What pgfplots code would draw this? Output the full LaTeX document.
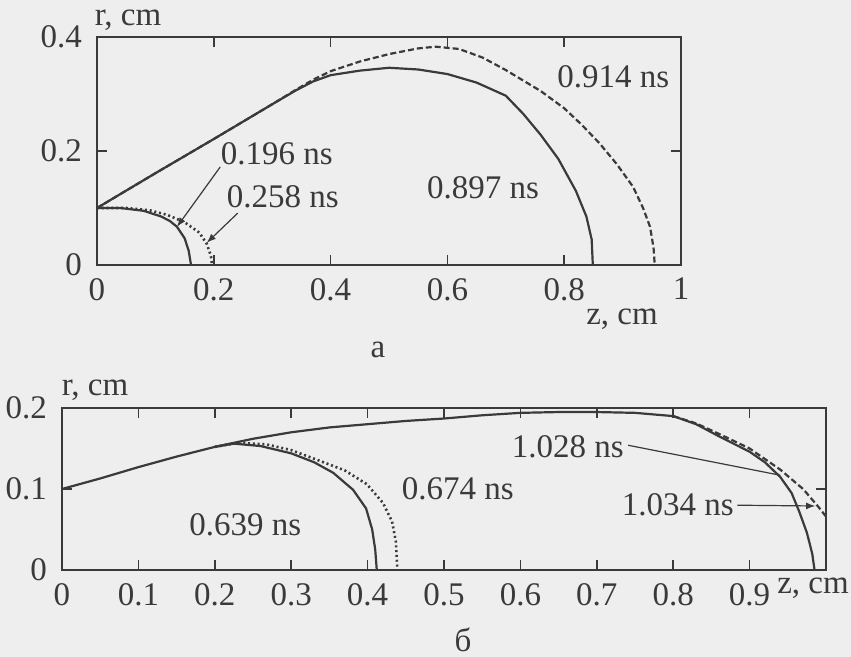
\documentclass[border=0pt]{standalone}
\usepackage{fontspec}
\setmainfont{Liberation Serif}
\usepackage{pgfplots}
\pgfplotsset{compat=1.18}
\definecolor{ink}{HTML}{3A3A3A}
\definecolor{paper}{HTML}{EEEEEE}

\pgfplotsset{
  scan/.style={
    scale only axis, anchor=south west,
    xmin=0, xmax=1, ymin=0,
    axis line style={ink, line width=0.8pt},
    tick style={ink, line width=0.8pt},
    major tick length=5pt,
    tick align=inside,
    ticklabel style={font=\fontsize{16.5}{19}\selectfont, text=ink},
    xticklabel style={yshift=-3pt},
    yticklabel style={xshift=-4pt},
    /pgf/number format/assume math mode=true,
    cycle list={{ink}},
    every axis plot/.append style={ink, line width=1.1pt, no markers},
  },
}
\tikzset{
  lbl/.style={font=\fontsize{16.5}{19}\selectfont, text=ink},
  dots/.style={dash pattern=on 1pt off 1.4pt, line width=1.3pt},
  dashes/.style={dash pattern=on 3pt off 1.5pt},
}

\begin{document}
\begin{tikzpicture}
\fill[paper] (0,0) rectangle (425.5pt,328.5pt);
\path[use as bounding box] (0,0) rectangle (425.5pt,328.5pt);

% ---- panel a ----
\begin{axis}[scan, at={(48.5pt,196pt)}, width=292pt, height=114pt,
  ymax=0.4, xtick={0,0.2,0.4,0.6,0.8,1}, ytick={0,0.2,0.4}]
% 0.196 ns
\addplot coordinates {(0,0.1) (0.04,0.1) (0.08,0.095) (0.11,0.085) (0.125,0.077)
  (0.137,0.067) (0.15,0.047) (0.157,0.025) (0.161,0)};
% 0.258 ns
\addplot[dots] coordinates {(0,0.1) (0.05,0.1) (0.09,0.096) (0.12,0.088) (0.15,0.075)
  (0.175,0.057) (0.188,0.037) (0.195,0.016) (0.197,0)};
% 0.897 ns
\addplot coordinates {(0,0.1) (0.1,0.161) (0.2,0.221) (0.3,0.282) (0.34,0.306)
  (0.37,0.322) (0.4,0.333) (0.45,0.341) (0.5,0.346) (0.55,0.343) (0.6,0.335)
  (0.65,0.32) (0.7,0.297) (0.73,0.265) (0.76,0.228) (0.79,0.186) (0.82,0.13)
  (0.838,0.085) (0.847,0.045) (0.849,0)};
% 0.914 ns
\addplot[dashes] coordinates {(0,0.1) (0.1,0.161) (0.2,0.221) (0.3,0.282) (0.34,0.307)
  (0.37,0.325) (0.4,0.34) (0.45,0.357) (0.5,0.37) (0.55,0.38) (0.58,0.383) (0.62,0.379)
  (0.66,0.364) (0.7,0.342) (0.76,0.305) (0.8,0.275) (0.83,0.246) (0.86,0.214)
  (0.89,0.177) (0.918,0.137) (0.935,0.1) (0.947,0.067) (0.953,0.03) (0.955,0)};
\node[lbl] at (axis cs:0.308,0.196) {0.196 ns};
\node[lbl] at (axis cs:0.318,0.119) {0.258 ns};
\node[lbl] at (axis cs:0.884,0.330) {0.914 ns};
\node[lbl] at (axis cs:0.661,0.135) {0.897 ns};
\draw[ink, line width=0.6pt, -latex] (axis cs:0.211,0.172) -- (axis cs:0.137,0.067);
\draw[ink, line width=0.6pt, -latex] (axis cs:0.241,0.091) -- (axis cs:0.188,0.039);
\end{axis}

% ---- panel b ----
\begin{axis}[scan, at={(31pt,43.5pt)}, width=382pt, height=81pt,
  ymax=0.2, xtick={0,0.1,0.2,0.3,0.4,0.5,0.6,0.7,0.8,0.9}, ytick={0,0.1,0.2}]
% 1.028 ns
\addplot coordinates {(0,0.1) (0.05,0.113) (0.1,0.127) (0.15,0.14) (0.2,0.152)
  (0.25,0.162) (0.3,0.17) (0.35,0.176) (0.4,0.18) (0.45,0.184) (0.5,0.187)
  (0.55,0.191) (0.6,0.194) (0.65,0.195) (0.7,0.195) (0.75,0.194) (0.8,0.19)
  (0.83,0.18) (0.86,0.165) (0.9,0.146) (0.92,0.133) (0.94,0.115) (0.955,0.095)
  (0.965,0.072) (0.975,0.046) (0.982,0.02) (0.985,0)};
% 1.034 ns
\addplot[dashes] coordinates {(0.8,0.19) (0.83,0.181) (0.86,0.168) (0.9,0.15)
  (0.94,0.124) (0.97,0.1) (0.99,0.078) (1.0,0.066)};
% 0.639 ns
\addplot coordinates {(0.2,0.152) (0.225,0.156) (0.26,0.153) (0.3,0.144) (0.33,0.133)
  (0.355,0.12) (0.381,0.099) (0.398,0.076) (0.406,0.05) (0.41,0.025) (0.412,0)};
% 0.674 ns
\addplot[dots] coordinates {(0.2,0.152) (0.23,0.157) (0.268,0.155) (0.3,0.148)
  (0.334,0.136) (0.37,0.123) (0.399,0.106) (0.42,0.083) (0.432,0.06) (0.437,0.035)
  (0.439,0)};
\node[lbl] at (axis cs:0.240,0.056) {0.639 ns};
\node[lbl] at (axis cs:0.518,0.100) {0.674 ns};
\node[lbl] at (axis cs:0.662,0.152) {1.028 ns};
\node[lbl] at (axis cs:0.806,0.080) {1.034 ns};
\draw[ink, line width=0.6pt] (axis cs:0.741,0.154) -- (axis cs:0.940,0.117);
\draw[ink, line width=0.6pt, -latex] (axis cs:0.884,0.080) -- (axis cs:0.986,0.079);
\end{axis}

% axis names and panel letters
\node[lbl] at (64pt,318.5pt) {r, cm};
\node[lbl] at (311pt,169pt) {z, cm};
\node[lbl] at (189pt,153.5pt) {а};
\node[lbl] at (47.5pt,133.5pt) {r, cm};
\node[lbl] at (406.5pt,34.5pt) {z, cm};
\node[lbl] at (231.5pt,8.5pt) {б};
\end{tikzpicture}
\end{document}
